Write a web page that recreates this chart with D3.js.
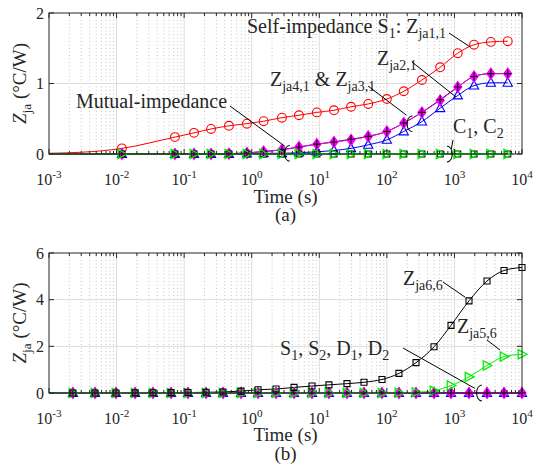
<!DOCTYPE html>
<html><head><meta charset="utf-8">
<script src="https://cdn.jsdelivr.net/npm/d3@7"></script>
<style>
body{margin:0;background:#fff}
svg{display:block}
svg text{font-family:'Liberation Serif','DejaVu Serif',serif;fill:#262626}
</style>
</head><body>
<svg id="chart" width="533" height="465" font-family="Liberation Serif, DejaVu Serif, serif"></svg>
<script>
// ---- panel (a): heating source S1, sampled times (s) and Zja (°C/W)
const leadTime = [0.001, 0.003, 0.006];
const zSelf11Lead = [0.01, 0.025, 0.045];
const zeroLead = [0, 0, 0];
const timeA = [0.012, 0.073, 0.14, 0.25, 0.46, 0.85, 1.5, 2.8, 5.0, 9.2, 16.5, 29.5, 53, 100, 178, 330, 615, 1120, 1950, 3460, 6150];
const zSelf11 = [0.08, 0.24, 0.30, 0.355, 0.40, 0.43, 0.465, 0.515, 0.55, 0.59, 0.62, 0.67, 0.71, 0.78, 0.89, 1.05, 1.23, 1.43, 1.55, 1.59, 1.60];
const zMut21 = [0, 0, 0, 0, 0, 0.005, 0.01, 0.01, 0.02, 0.03, 0.05, 0.08, 0.13, 0.20, 0.32, 0.46, 0.65, 0.83, 0.97, 1.01, 1.01];
const zMut31 = [0, 0, 0, 0, 0.005, 0.015, 0.035, 0.06, 0.10, 0.14, 0.17, 0.20, 0.25, 0.32, 0.44, 0.59, 0.76, 0.95, 1.10, 1.14, 1.14];
const zMut41 = [0, 0, 0, 0, 0.005, 0.015, 0.035, 0.06, 0.10, 0.14, 0.17, 0.21, 0.25, 0.32, 0.44, 0.59, 0.77, 0.95, 1.10, 1.14, 1.14];
const zMutC1 = [0, 0, 0, 0, 0, 0, 0, 0, 0, 0, 0, 0, 0, 0, 0, 0, 0, 0, 0, 0, 0];
const zMutC2 = [0, 0, 0, 0, 0, 0, 0, 0, 0, 0, 0, 0, 0, 0, 0, 0, 0, 0, 0, 0, 0];

// ---- panel (b): heating source C2
const leadTimeB = [0.001];
const timeB = [0.00226, 0.0048, 0.0098, 0.0188, 0.0346, 0.064, 0.114, 0.211, 0.376, 0.695, 1.24, 2.29, 4.23, 7.8, 13.9, 25.7, 45.9, 84.7, 151, 270, 499, 890, 1643, 3035, 5420, 10000];
const z66 = [0, 0, 0, 0.005, 0.01, 0.015, 0.02, 0.03, 0.045, 0.08, 0.14, 0.17, 0.24, 0.30, 0.35, 0.40, 0.46, 0.58, 0.84, 1.30, 1.98, 2.90, 3.95, 4.80, 5.25, 5.38];
const z56 = [0, 0, 0, 0, 0, 0, 0, 0, 0, 0, 0, 0, 0, 0, 0, 0, 0, 0, 0.01, 0.03, 0.10, 0.32, 0.69, 1.18, 1.56, 1.66];
const z26 = [0, 0, 0, 0, 0, 0, 0, 0, 0, 0, 0, 0, 0, 0, 0, 0, 0, 0, 0, 0, 0, 0, 0, 0, 0, 0];
const z36 = [0, 0, 0, 0, 0, 0, 0, 0, 0, 0, 0, 0, 0, 0, 0, 0, 0, 0, 0, 0, 0, 0, 0, 0, 0, 0];
const z46 = [0, 0, 0, 0, 0, 0, 0, 0, 0, 0, 0, 0, 0, 0, 0, 0, 0, 0, 0, 0, 0, 0, 0, 0, 0, 0];

// ---- axes ticks
const xTickExp = [-3, -2, -1, 0, 1, 2, 3, 4];
const yTicksA = [0, 1, 2];
const yTicksB = [0, 2, 4, 6];

const svg = d3.select("#chart");
const SERIF = "Liberation Serif, DejaVu Serif, serif";
const FONT_TICK = 16, FONT_LABEL = 19, FONT_NOTE = 20;
const RED = "#ff0000", BLUE = "#0000ff", MAG = "#ff00ff", GREEN = "#00ee00", BLACK = "#000";

// text with sub/superscripts
function rich(g, x, y, parts, size, anchor) {
  const t = g.append("text").attr("x", x).attr("y", y)
    .attr("font-family", SERIF)
    .attr("font-size", size).attr("text-anchor", anchor || "start");
  let shift = 0;
  parts.forEach(p => {
    const target = p.sub ? 0.27 * size : p.sup ? -0.42 * size : 0;
    const s = t.append("tspan").text(p.t).attr("dy", target - shift);
    shift = target;
    if (p.sub || p.sup) s.attr("font-size", size * 0.7);
    if (p.it) s.attr("font-style", "italic");
  });
  return t;
}

function markerPath(type, x, y) {
  switch (type) {
    case "triUp": return `M${x},${y - 5.2}L${x + 4.6},${y + 3.4}L${x - 4.6},${y + 3.4}Z`;
    case "triRight": return `M${x + 5},${y}L${x - 3.8},${y - 4.6}L${x - 3.8},${y + 4.6}Z`;
    case "diamond": return `M${x},${y - 5.5}L${x + 4},${y}L${x},${y + 5.5}L${x - 4},${y}Z`;
    case "plus": return `M${x - 3.5},${y}H${x + 3.5}M${x},${y - 4.2}V${y + 4.2}`;
    case "square": return `M${x - 3},${y - 3}h6v6h-6Z`;
  }
}

function panel(cfg) {
  const { x, y, yTicks, series } = cfg;
  const g = svg.append("g");
  const [x0, x1] = x.range(), [y0, y1] = y.range();

  // grid: dotted minor decades, solid majors
  const minor = [];
  for (let e = -3; e < 4; e++) for (let k = 2; k <= 9; k++) minor.push(k * Math.pow(10, e));
  g.append("g").selectAll("line").data(minor).join("line")
    .attr("x1", d => x(d)).attr("x2", d => x(d)).attr("y1", y1).attr("y2", y0)
    .attr("stroke", "#b8b8b8").attr("stroke-width", 0.8).attr("stroke-dasharray", "1,2.5");
  g.append("g").selectAll("line").data(xTickExp.slice(1, -1)).join("line")
    .attr("x1", d => x(Math.pow(10, d))).attr("x2", d => x(Math.pow(10, d))).attr("y1", y1).attr("y2", y0)
    .attr("stroke", "#dcdcdc").attr("stroke-width", 1);
  g.append("g").selectAll("line").data(yTicks.slice(1, -1)).join("line")
    .attr("x1", x0).attr("x2", x1).attr("y1", d => y(d)).attr("y2", d => y(d))
    .attr("stroke", "#dcdcdc").attr("stroke-width", 1);

  // lines
  const line = d3.line().x(d => x(d.t)).y(d => y(d.v)).curve(d3.curveMonotoneX);
  series.forEach(s => {
    const pts = s.leadT.map((t, i) => ({ t, v: s.leadV[i] }))
      .concat(s.t.map((t, i) => ({ t, v: s.v[i] })));
    g.append("path").datum(pts).attr("d", line)
      .attr("fill", "none").attr("stroke", s.color).attr("stroke-width", 1);
  });

  // markers
  series.slice().sort((a, b) => a.mOrder - b.mOrder).forEach(s => {
    const pts = s.t.map((t, i) => ({ t, v: s.v[i] }));
    if (s.marker === "circle") {
      g.append("g").selectAll("circle").data(pts).join("circle")
        .attr("cx", d => x(d.t)).attr("cy", d => y(d.v)).attr("r", 4.4)
        .attr("fill", "none").attr("stroke", s.color).attr("stroke-width", 1.1);
    } else {
      g.append("g").selectAll("path").data(pts).join("path")
        .attr("d", d => markerPath(s.marker, x(d.t), y(d.v)))
        .attr("fill", s.fill || "none").attr("stroke", s.color).attr("stroke-width", s.sw || 1.1);
    }
  });

  // box and inward ticks
  g.append("rect").attr("x", x0).attr("y", y1).attr("width", x1 - x0).attr("height", y0 - y1)
    .attr("fill", "none").attr("stroke", "#262626").attr("stroke-width", 1);
  const tk = g.append("g").attr("stroke", "#262626").attr("stroke-width", 1);
  minor.forEach(d => {
    tk.append("line").attr("x1", x(d)).attr("x2", x(d)).attr("y1", y0).attr("y2", y0 - 3);
    tk.append("line").attr("x1", x(d)).attr("x2", x(d)).attr("y1", y1).attr("y2", y1 + 3);
  });
  xTickExp.forEach(e => {
    const xv = x(Math.pow(10, e));
    tk.append("line").attr("x1", xv).attr("x2", xv).attr("y1", y0).attr("y2", y0 - 5);
    tk.append("line").attr("x1", xv).attr("x2", xv).attr("y1", y1).attr("y2", y1 + 5);
    rich(g, xv, y0 + 31, [{ t: "10" }, { t: String(e), sup: true }], FONT_TICK, "middle");
  });
  yTicks.forEach(v => {
    tk.append("line").attr("x1", x0).attr("x2", x0 + 5).attr("y1", y(v)).attr("y2", y(v));
    tk.append("line").attr("x1", x1).attr("x2", x1 - 5).attr("y1", y(v)).attr("y2", y(v));
    rich(g, 44, y(v) + 5.5, [{ t: String(v) }], FONT_TICK, "end");
  });

  // axis titles
  rich(g, (x0 + x1) / 2, cfg.timeY, [{ t: "Time (s)" }], FONT_LABEL, "middle");
  rich(g, (x0 + x1) / 2, cfg.tagY, [{ t: cfg.tag }], FONT_LABEL, "middle");
  rich(g.append("g").attr("transform", `translate(26,${(y0 + y1) / 2}) rotate(-90)`), 0, 0,
    [{ t: "Z", it: true }, { t: "ja", sub: true }, { t: " (°C/W)" }], FONT_LABEL, "middle");
  return g;
}

function leader(g, p, q) {
  g.append("line").attr("x1", p[0]).attr("y1", p[1]).attr("x2", q[0]).attr("y2", q[1])
    .attr("stroke", "#000").attr("stroke-width", 1);
}
function brace(g, cx, cy, dir) {
  // small curved bracket grouping overlapping curves
  const s = dir;
  g.append("path")
    .attr("d", `M${cx + 3 * s},${cy - 8}C${cx - 4 * s},${cy - 7} ${cx - 4 * s},${cy + 7} ${cx + 3 * s},${cy + 8}`)
    .attr("fill", "none").attr("stroke", "#000").attr("stroke-width", 1.1);
}

// ---------------- panel (a)
const xA = d3.scaleLog().domain([1e-3, 1e4]).range([49, 522]);
const yA = d3.scaleLinear().domain([0, 2]).range([154, 13]);
const gA = panel({
  x: xA, y: yA, yTicks: yTicksA, timeY: 203, tagY: 221, tag: "(a)",
  series: [
    { t: timeA, v: zSelf11, leadT: leadTime, leadV: zSelf11Lead, color: RED, marker: "circle", mOrder: 0 },
    { t: timeA, v: zMut21, leadT: leadTime, leadV: zeroLead, color: BLUE, marker: "triUp", mOrder: 1 },
    { t: timeA, v: zMut41, leadT: leadTime, leadV: zeroLead, color: BLACK, marker: "plus", mOrder: 3 },
    { t: timeA, v: zMut31, leadT: leadTime, leadV: zeroLead, color: MAG, marker: "diamond", fill: MAG, sw: 1.2, mOrder: 2 },
    { t: timeA, v: zMutC2, leadT: leadTime, leadV: zeroLead, color: BLACK, marker: "square", mOrder: 4 },
    { t: timeA, v: zMutC1, leadT: leadTime, leadV: zeroLead, color: GREEN, marker: "triRight", sw: 1.3, mOrder: 5 }
  ]
});
rich(gA, 247, 33, [{ t: "Self-impedance S" }, { t: "1", sub: true }, { t: ": " }, { t: "Z" }, { t: "ja1,1", sub: true }], FONT_NOTE);
leader(gA, [449, 33], [xA(1700), yA(1.52)]);
rich(gA, 377, 65, [{ t: "Z" }, { t: "ja2,1", sub: true }], FONT_NOTE);
leader(gA, [412, 62], [xA(1050), yA(0.81)]);
rich(gA, 270, 86, [{ t: "Z" }, { t: "ja4,1", sub: true }, { t: " & " }, { t: "Z" }, { t: "ja3,1", sub: true }], FONT_NOTE);
leader(gA, [368, 86], [xA(195), yA(0.55)]);
brace(gA, xA(215), yA(0.43), 1);
rich(gA, 76, 108, [{ t: "Mutual-impedance" }], FONT_NOTE);
leader(gA, [230, 106], [xA(3.1), yA(0.11)]);
brace(gA, xA(3.3), yA(0.01), 1);
rich(gA, 453, 133, [{ t: "C" }, { t: "1", sub: true }, { t: ", C" }, { t: "2", sub: true }], FONT_NOTE);
leader(gA, [453, 140], [xA(900), yA(0.07)]);
brace(gA, xA(860), yA(0.0), -1);

// ---------------- panel (b)
const xB = d3.scaleLog().domain([1e-3, 1e4]).range([49, 522]);
const yB = d3.scaleLinear().domain([0, 6]).range([393, 253]);
const gB = panel({
  x: xB, y: yB, yTicks: yTicksB, timeY: 441, tagY: 460, tag: "(b)",
  series: [
    { t: timeB, v: z26, leadT: leadTimeB, leadV: [0], color: BLUE, marker: "triUp", mOrder: 0 },
    { t: timeB, v: z66, leadT: leadTimeB, leadV: [0], color: BLACK, marker: "square", mOrder: 4 },
    { t: timeB, v: z46, leadT: leadTimeB, leadV: [0], color: BLACK, marker: "plus", mOrder: 2 },
    { t: timeB, v: z36, leadT: leadTimeB, leadV: [0], color: MAG, marker: "diamond", fill: MAG, sw: 1.2, mOrder: 1 },
    { t: timeB, v: z56, leadT: leadTimeB, leadV: [0], color: GREEN, marker: "triRight", sw: 1.3, mOrder: 3 }
  ]
});
rich(gB, 403, 285, [{ t: "Z" }, { t: "ja6,6", sub: true }], FONT_NOTE);
leader(gB, [443, 282], [xB(1435), yB(4.11)]);
rich(gB, 457, 333, [{ t: "Z" }, { t: "ja5,6", sub: true }], FONT_NOTE);
leader(gB, [487, 340], [xB(4730), yB(1.84)]);
rich(gB, 280, 355, [{ t: "S" }, { t: "1", sub: true }, { t: ", S" }, { t: "2", sub: true }, { t: ", D" }, { t: "1", sub: true }, { t: ", D" }, { t: "2", sub: true }], FONT_NOTE);
leader(gB, [403, 348], [xB(2000), yB(0.2)]);
brace(gB, xB(2300), yB(0.0), 1);
</script>
</body></html>
